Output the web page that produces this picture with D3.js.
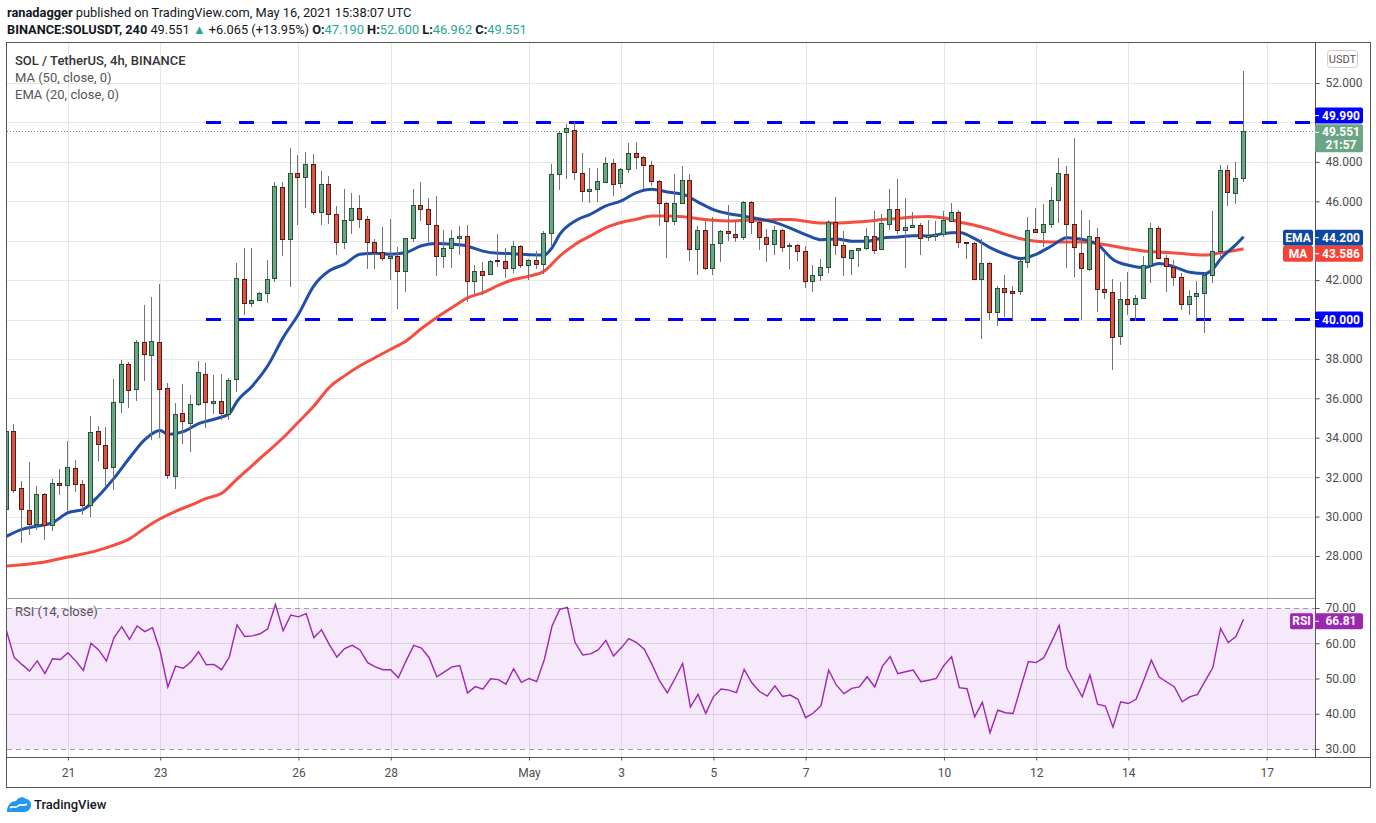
<!DOCTYPE html>
<html>
<head>
<meta charset="utf-8">
<script src="https://cdnjs.cloudflare.com/ajax/libs/d3/7.8.5/d3.min.js"></script>
<style>
  body { margin: 0; background: #fff; }
  svg text { font-family: Roboto, "Liberation Sans", Arial, sans-serif; }
</style>
</head>
<body>
<svg id="chart" width="1376" height="823"></svg>
<script>
// ---- data (SOL/USDT 4h, first candle Apr 19 16:00 UTC) ----
var opens = [30.37,34.32,31.43,30.32,29.64,31.14,29.59,31.72,31.59,32.48,
  31.66,30.61,34.32,33.62,32.51,35.79,37.76,36.48,38.84,38.22,
  38.84,36.53,32.07,35.25,34.77,35.71,37.25,35.76,35.86,35.23,
  37.00,42.08,40.86,41.01,41.32,42.13,46.70,44.06,47.41,47.21,
  47.87,45.46,46.85,45.33,43.91,45.07,45.68,45.12,43.91,43.40,
  43.14,43.20,42.48,44.11,45.83,45.63,44.82,43.23,43.65,44.11,
  44.25,41.95,42.47,42.30,43.03,42.98,42.63,43.75,42.78,43.03,
  42.83,44.41,47.36,49.49,49.64,47.41,46.54,46.64,47.00,47.92,
  46.95,47.66,48.47,48.27,47.86,47.05,45.93,45.02,45.93,47.10,
  43.59,44.56,42.61,43.88,44.49,44.34,44.19,45.97,44.95,44.19,
  43.83,44.56,43.73,43.80,43.47,41.95,42.25,42.68,44.95,43.78,
  43.12,43.53,43.63,44.24,43.58,44.85,45.61,44.54,44.70,44.80,
  44.20,44.25,44.35,45.01,45.47,43.92,43.90,42.06,42.89,40.39,
  41.62,41.43,41.45,42.94,44.61,44.46,44.86,46.08,47.39,44.86,
  43.39,42.58,44.20,41.57,41.42,39.14,41.06,40.81,41.11,42.78,
  44.62,43.12,42.67,42.16,40.79,41.19,41.35,42.26,43.48,47.59,
  46.42,47.19];
var highs = [34.65,34.68,31.81,32.75,31.55,31.18,31.91,32.39,33.83,32.89,
  31.86,35.11,34.60,34.54,36.96,37.96,37.83,38.96,40.75,41.16,
  41.78,36.78,35.78,36.73,36.19,37.90,37.78,37.16,37.21,37.04,
  42.86,43.65,43.65,41.37,43.01,47.00,47.00,48.69,48.34,48.52,
  48.39,47.51,47.26,45.77,46.61,46.41,46.31,45.25,44.08,44.68,
  45.12,43.70,44.16,46.61,46.99,46.14,46.27,44.53,44.55,44.72,
  44.79,42.76,42.93,43.02,44.32,43.64,44.00,43.78,43.05,43.49,
  44.49,47.88,49.54,49.92,50.00,48.44,47.71,47.71,48.22,48.14,
  47.70,48.98,49.03,48.30,48.05,47.10,45.98,47.37,47.80,47.37,
  44.76,44.98,45.20,44.55,45.81,45.07,46.00,46.00,44.98,44.61,
  44.76,44.60,43.88,43.85,43.73,42.78,43.09,45.03,46.24,44.51,
  43.55,43.65,44.66,45.53,45.36,46.63,47.15,46.19,45.47,44.90,
  45.03,44.98,45.49,45.89,45.55,43.95,43.92,44.07,42.92,41.70,
  42.24,41.70,43.00,45.18,45.64,45.84,46.70,48.20,47.80,49.22,
  45.54,45.03,44.62,43.43,42.04,41.89,42.40,41.23,43.22,44.88,
  44.76,43.29,43.04,42.36,41.52,41.94,42.36,45.52,47.86,47.86,
  48.01,52.60];
var lows = [30.20,31.20,28.66,29.07,29.30,28.82,29.28,31.12,30.24,31.26,
  30.10,29.98,32.80,31.57,31.35,35.28,35.49,35.88,36.87,33.91,
  34.00,31.91,31.38,33.69,33.28,35.60,34.51,35.23,34.89,34.90,
  36.33,40.23,40.61,40.95,40.86,41.88,43.23,41.67,44.80,45.68,
  45.29,44.80,44.85,43.28,43.57,44.36,44.62,42.54,42.54,42.98,
  42.01,40.52,41.40,43.91,45.01,43.91,42.21,42.60,42.60,43.28,
  40.89,41.27,41.22,42.25,42.68,42.12,42.37,42.63,42.00,42.58,
  42.32,43.70,46.58,47.15,47.07,45.98,45.93,45.98,46.95,46.27,
  46.66,47.41,47.63,46.61,46.75,44.75,43.14,44.80,45.90,42.97,
  42.24,42.50,42.27,42.90,43.97,43.92,44.05,44.36,43.51,42.92,
  43.25,43.41,42.56,42.97,41.58,41.39,41.93,42.36,43.29,42.19,
  42.24,42.66,43.51,43.34,43.51,44.56,44.36,42.59,44.65,43.25,
  43.97,43.98,44.20,44.98,43.61,43.05,42.01,39.00,39.97,39.68,
  40.13,40.00,41.25,42.60,44.40,43.70,44.62,44.88,42.62,42.16,
  39.97,42.46,40.39,41.03,37.45,38.72,40.24,39.90,41.05,41.86,
  43.05,41.38,41.69,40.47,40.25,40.03,39.32,41.84,43.04,45.74,
  45.88,46.962];
var closes = [34.34,31.35,30.37,29.64,31.14,29.59,31.71,31.59,32.53,31.64,
  30.61,34.27,33.66,32.46,35.81,37.76,36.43,38.84,38.27,38.89,
  36.48,32.12,35.19,34.84,35.71,37.35,35.81,35.86,35.25,36.94,
  42.13,40.86,41.01,41.32,42.08,46.75,44.06,47.41,47.21,47.87,
  45.43,46.85,45.33,43.91,45.07,45.68,45.12,43.91,43.45,43.14,
  43.23,42.48,44.11,45.83,45.63,44.87,43.23,43.65,44.11,44.26,
  41.95,42.47,42.25,42.98,42.97,42.63,43.75,42.78,43.03,42.83,
  44.41,47.36,49.46,49.70,47.46,46.54,46.64,47.05,47.92,46.90,
  47.66,48.47,48.27,47.86,47.05,45.92,45.00,45.93,47.10,43.59,
  44.56,42.61,43.83,44.49,44.37,44.19,45.97,44.95,44.19,43.83,
  44.56,43.68,43.80,43.47,41.95,42.25,42.68,44.95,43.78,43.17,
  43.53,43.63,44.24,43.53,44.90,45.61,44.56,44.70,44.80,44.14,
  44.27,44.35,45.03,45.47,43.93,43.88,42.06,42.89,40.39,41.62,
  41.40,41.35,42.99,44.56,44.46,44.86,46.08,47.44,44.86,43.70,
  42.63,44.24,41.57,41.42,39.09,41.06,40.81,41.11,42.78,44.62,
  43.12,42.72,42.16,40.79,41.19,41.35,42.26,43.48,47.59,46.47,
  47.19,49.551];

// EMA(20) and MA(50), read at sample candles
var emaIdx = [0,2,4,6,8,10,12,14,16,18,20,21,23,25,27,29,30,32,34,36,38,40,42,44,46,48,50,52,54,56,58,60,
  62,64,66,68,70,71,72,74,76,78,80,82,84,86,88,90,92,94,96,98,100,102,104,106,108,110,112,114,116,118,120,
  122,124,126,128,130,132,134,136,138,140,142,144,146,148,150,152,154,156,157,158,160,161];
var emaValues = [29.00,29.35,29.52,29.69,30.20,30.37,31.06,31.95,32.97,33.91,34.37,34.17,34.31,34.72,34.94,35.23,35.85,36.63,37.65,39.08,40.27,41.71,42.47,42.81,43.31,43.36,43.31,43.40,43.74,43.86,43.82,43.72,
  43.47,43.36,43.34,43.29,43.27,43.64,44.32,45.00,45.34,45.76,46.02,46.44,46.61,46.47,46.36,45.96,45.58,45.37,45.24,45.10,44.93,44.64,44.31,44.05,44.09,43.97,43.97,44.14,44.19,44.25,44.24,
  44.37,44.41,44.10,43.65,43.31,43.09,43.31,43.73,44.15,44.07,43.81,43.05,42.75,42.63,42.84,42.67,42.40,42.33,42.56,43.07,43.80,44.20];
var maIdx = [0,4,8,12,14,16,18,20,22,24,26,28,30,32,34,36,38,40,42,44,46,48,50,52,54,56,58,60,62,64,66,68,70,72,74,76,78,80,
  82,84,86,88,90,92,94,96,98,100,102,104,106,108,110,112,114,116,118,120,122,124,126,128,130,132,134,136,138,140,
  142,144,146,148,150,152,154,156,158,160,161];
var maValues = [27.49,27.64,27.95,28.30,28.55,28.87,29.41,29.89,30.27,30.58,30.92,31.18,31.90,32.60,33.30,34.00,34.80,35.61,36.55,37.14,37.65,38.07,38.49,38.91,39.54,40.10,40.61,41.10,41.36,41.73,42.03,42.20,42.46,43.22,43.81,44.24,44.66,44.92,
  45.09,45.25,45.25,45.22,45.11,45.03,45.00,45.03,45.03,45.07,45.07,44.98,44.90,44.90,44.93,44.98,45.07,45.12,45.20,45.23,45.15,44.95,44.78,44.57,44.32,44.10,43.97,43.93,43.93,43.93,
  43.86,43.73,43.59,43.48,43.42,43.38,43.31,43.27,43.38,43.51,43.586];

// RSI(14) per candle
var rsiValues = [63.5,56.0,54.0,52.1,55.0,51.4,55.6,55.4,57.3,55.0,
  52.3,60.0,58.1,55.0,61.6,64.7,61.1,64.9,63.3,64.4,
  57.8,47.6,53.5,52.9,54.7,57.6,53.9,54.0,52.5,56.1,
  65.2,61.9,62.1,62.7,64.1,71.0,63.5,68.0,67.5,68.4,
  61.6,63.8,59.7,56.1,58.5,59.4,58.1,54.5,53.3,52.5,
  52.5,50.2,55.0,59.4,58.6,55.9,50.5,51.9,53.3,53.7,
  45.9,47.7,47.0,49.9,49.7,48.4,52.8,48.9,50.0,49.1,
  55.4,64.9,69.6,70.2,60.2,56.7,57.0,58.1,60.8,56.4,
  58.7,61.3,60.2,58.3,54.0,49.3,45.9,50.0,54.3,41.9,
  45.5,40.1,44.8,47.0,46.7,46.0,52.6,48.8,46.3,45.0,
  47.9,44.9,45.3,44.1,38.9,40.2,42.3,52.4,48.1,45.7,
  47.2,47.6,50.5,47.6,53.5,56.2,51.4,51.9,52.4,49.1,
  49.5,50.0,53.7,56.2,47.4,47.1,39.1,43.3,34.6,41.0,
  40.3,40.1,47.6,54.8,54.5,55.9,60.4,65.1,52.9,48.8,
  44.8,51.0,42.7,42.2,36.2,43.4,42.9,44.1,49.5,55.2,
  50.4,49.0,47.6,43.4,44.8,45.5,49.3,53.1,64.2,60.2,
  61.9,66.81];

var dayTicks = ["2021-04-21","2021-04-23","2021-04-26","2021-04-28","2021-05-01","2021-05-03",
  "2021-05-05","2021-05-07","2021-05-10","2021-05-12","2021-05-14","2021-05-17"];
var priceTicks = [28,30,32,34,36,38,42,46,48,52];
var priceGrid = [28,30,32,34,36,38,40,42,44,46,48,50,52];
var rsiTicks = [30,40,50,60,70];
var levels = [49.99, 40.0];

// ---- layout ----
var svg = d3.select("#chart");
var left = 7, axisX = 1315, right = 1370;
var priceTop = 43, priceBottom = 598, rsiTop = 599, rsiBottom = 757;
var start = Date.UTC(2021, 3, 19, 16);
var timeAt = function(i) { return new Date(start + i * 4 * 3600 * 1000); };
var last = closes.length - 1;

var x = d3.scaleUtc().domain([timeAt(0), timeAt(last)]).range([6.5, 1243.6]);
var yP = d3.scaleLinear().domain([28, 52]).range([556, 83]);
var yR = d3.scaleLinear().domain([30, 70]).range([749, 608]);

var candles = d3.range(closes.length).map(function(i) {
  return { t: timeAt(i), o: opens[i], h: highs[i], l: lows[i], c: closes[i] };
});

var defs = svg.append("defs");
defs.append("clipPath").attr("id", "clipP").append("rect")
  .attr("x", left).attr("y", priceTop).attr("width", axisX - left).attr("height", priceBottom - priceTop);
defs.append("clipPath").attr("id", "clipR").append("rect")
  .attr("x", left).attr("y", rsiTop).attr("width", axisX - left).attr("height", rsiBottom - rsiTop);

svg.append("rect").attr("width", 1376).attr("height", 823).attr("fill", "#fff");

// grid
var grid = svg.append("g").attr("shape-rendering", "crispEdges");
grid.selectAll("line.hp").data(priceGrid).join("line")
  .attr("x1", left).attr("x2", axisX)
  .attr("y1", function(d) { return Math.round(yP(d)) + 0.5; })
  .attr("y2", function(d) { return Math.round(yP(d)) + 0.5; })
  .attr("stroke", "#e6e6e6");
grid.selectAll("line.v").data(dayTicks).join("line")
  .attr("x1", function(d) { return Math.round(x(new Date(d))) + 0.5; })
  .attr("x2", function(d) { return Math.round(x(new Date(d))) + 0.5; })
  .attr("y1", priceTop).attr("y2", rsiBottom)
  .attr("stroke", "#e6e6e6");
grid.selectAll("line.hr").data([40, 50, 60]).join("line")
  .attr("x1", left).attr("x2", axisX)
  .attr("y1", function(d) { return Math.round(yR(d)) + 0.5; })
  .attr("y2", function(d) { return Math.round(yR(d)) + 0.5; })
  .attr("stroke", "#e2e2e2");

// RSI pane
var rsiG = svg.append("g").attr("clip-path", "url(#clipR)");
rsiG.append("rect").attr("x", left).attr("width", axisX - left)
  .attr("y", yR(70)).attr("height", yR(30) - yR(70))
  .attr("fill", "rgba(175,70,225,0.12)");
rsiG.selectAll("line.band").data([70, 30]).join("line")
  .attr("x1", left).attr("x2", axisX)
  .attr("y1", function(d) { return Math.round(yR(d)) + 0.5; })
  .attr("y2", function(d) { return Math.round(yR(d)) + 0.5; })
  .attr("stroke", "#9e9e9e").attr("stroke-dasharray", "5,4");
rsiG.append("path").datum(rsiValues)
  .attr("d", d3.line().x(function(d, i) { return x(timeAt(i)); }).y(function(d) { return yR(d); }))
  .attr("fill", "none").attr("stroke", "#9c27b0").attr("stroke-width", 1.4);

// price pane
var pg = svg.append("g").attr("clip-path", "url(#clipP)");

// support / resistance
pg.selectAll("line.level").data(levels).join("line")
  .attr("x1", 206).attr("x2", axisX)
  .attr("y1", function(d) { return yP(d); }).attr("y2", function(d) { return yP(d); })
  .attr("stroke", "#0000ff").attr("stroke-width", 3).attr("stroke-dasharray", "15,18");

// last price dotted line
pg.append("line").attr("x1", left).attr("x2", axisX)
  .attr("y1", Math.round(yP(closes[last])) + 0.5).attr("y2", Math.round(yP(closes[last])) + 0.5)
  .attr("stroke", "#5e9f77").attr("stroke-dasharray", "1,2");

var lineFrom = function(idx) {
  return d3.line().curve(d3.curveMonotoneX)
    .x(function(d, k) { return x(timeAt(idx[k])); })
    .y(function(d) { return yP(d); });
};
pg.append("path").datum(maValues).attr("d", lineFrom(maIdx))
  .attr("fill", "none").attr("stroke", "#f44336").attr("stroke-width", 3).attr("stroke-opacity", 0.95);
pg.append("path").datum(emaValues).attr("d", lineFrom(emaIdx))
  .attr("fill", "none").attr("stroke", "#1346a5").attr("stroke-width", 3).attr("stroke-opacity", 0.95);

// candles
var cg = pg.append("g").attr("shape-rendering", "crispEdges");
cg.selectAll("line.wick").data(candles).join("line")
  .attr("x1", function(d) { return Math.round(x(d.t)) - 0.5; })
  .attr("x2", function(d) { return Math.round(x(d.t)) - 0.5; })
  .attr("y1", function(d) { return Math.round(yP(d.h)); })
  .attr("y2", function(d) { return Math.round(yP(d.l)); })
  .attr("stroke", "#737375");
cg.selectAll("rect.body").data(candles).join("rect")
  .attr("x", function(d) { return Math.round(x(d.t)) - 2.5; })
  .attr("width", 4)
  .attr("y", function(d) { return Math.round(yP(Math.max(d.o, d.c))) + 0.5; })
  .attr("height", function(d) {
    return Math.max(1, Math.round(yP(Math.min(d.o, d.c))) - Math.round(yP(Math.max(d.o, d.c))));
  })
  .attr("fill", function(d) { return d.c >= d.o ? "#6ba583" : "#d75442"; })
  .attr("stroke", function(d) { return d.c >= d.o ? "#225437" : "#5b1a13"; });

// frame and separators
var frame = svg.append("g").attr("shape-rendering", "crispEdges").attr("stroke", "#555");
frame.append("rect").attr("x", 6.5).attr("y", 42.5).attr("width", right - 6).attr("height", 745)
  .attr("fill", "none");
frame.append("line").attr("x1", axisX + 0.5).attr("x2", axisX + 0.5).attr("y1", 42).attr("y2", rsiBottom);
frame.append("line").attr("x1", 6).attr("x2", right + 0.5).attr("y1", rsiBottom + 0.5).attr("y2", rsiBottom + 0.5);
frame.append("line").attr("x1", 6).attr("x2", axisX).attr("y1", priceBottom + 0.5).attr("y2", priceBottom + 0.5)
  .attr("stroke", "#9a9a9a");

// axes
var styleAxis = function(g) {
  g.select(".domain").remove();
  g.selectAll("line").attr("stroke", "#555");
  g.selectAll("text").attr("fill", "#4d4d4d").style("font-size", "12px");
};
svg.append("g").attr("transform", "translate(" + (axisX + 0.5) + ",0)")
  .call(d3.axisRight(yP).tickValues(priceTicks).tickSize(4).tickPadding(6).tickFormat(d3.format(".3f")))
  .call(styleAxis);
svg.append("g").attr("transform", "translate(" + (axisX + 0.5) + ",0)")
  .call(d3.axisRight(yR).tickValues(rsiTicks).tickSize(4).tickPadding(6).tickFormat(d3.format(".2f")))
  .call(styleAxis);
svg.append("g").attr("transform", "translate(0," + (rsiBottom + 0.5) + ")")
  .call(d3.axisBottom(x).tickValues(dayTicks.map(function(d) { return new Date(d); }))
    .tickSize(3).tickPadding(8)
    .tickFormat(function(d) { return d.getUTCDate() === 1 ? d3.utcFormat("%b")(d) : d3.utcFormat("%-d")(d); }))
  .call(styleAxis);

// value tags on the right axis
var tag = function(y0, h, fill, lines) {
  var g = svg.append("g");
  g.append("rect").attr("x", axisX).attr("y", y0).attr("width", 48).attr("height", h)
    .attr("rx", 2).attr("fill", fill);
  g.append("line").attr("x1", axisX).attr("x2", axisX + 4).attr("y1", y0 + 8).attr("y2", y0 + 8)
    .attr("stroke", "#fff");
  lines.forEach(function(s, k) {
    g.append("text").attr("x", 1341).attr("y", y0 + 12 + k * 13).attr("text-anchor", "middle")
      .attr("fill", "#fff").style("font-size", "12px").style("font-weight", "bold").text(s);
  });
};
var nameTag = function(y0, x0, w, fill, s) {
  svg.append("rect").attr("x", x0).attr("y", y0).attr("width", w).attr("height", 16)
    .attr("rx", 2).attr("fill", fill);
  svg.append("text").attr("x", x0 + w / 2).attr("y", y0 + 12).attr("text-anchor", "middle")
    .attr("fill", "#fff").style("font-size", "12px").style("font-weight", "bold").text(s);
};
tag(yP(49.99) - 15, 16, "#0000ff", [d3.format(".3f")(49.99)]);
tag(yP(closes[last]) - 7, 28, "#6ba583", [d3.format(".3f")(closes[last]), "21:57"]);
tag(yP(40) - 8, 16, "#0000ff", [d3.format(".3f")(40)]);
var emaLast = emaValues[emaValues.length - 1], maLast = maValues[maValues.length - 1];
tag(yP(emaLast) - 7, 16, "#0d47a1", [d3.format(".3f")(emaLast)]);
nameTag(yP(emaLast) - 7, 1283, 30, "#0d47a1", "EMA");
tag(yP(emaLast) + 9, 16, "#f44336", [d3.format(".3f")(maLast)]);
nameTag(yP(emaLast) + 9, 1283, 30, "#f44336", "MA");
var rsiLast = rsiValues[rsiValues.length - 1];
tag(yR(rsiLast) - 6, 16, "#9c27b0", [d3.format(".2f")(rsiLast)]);
nameTag(yR(rsiLast) - 6, 1290, 23, "#9c27b0", "RSI");

// currency badge
svg.append("rect").attr("x", 1327.5).attr("y", 50.5).attr("width", 30).attr("height", 17).attr("rx", 3)
  .attr("fill", "#fff").attr("stroke", "#cfcfcf");
svg.append("text").attr("x", 1342.5).attr("y", 63).attr("text-anchor", "middle")
  .attr("fill", "#555").style("font-size", "11px").text("USDT");

// legends
var legend = [["SOL / TetherUS, 4h, BINANCE", 64.5, "#333", 500], ["MA (50, close, 0)", 81.5, "#555", 400],
  ["EMA (20, close, 0)", 98.5, "#555", 400]];
legend.forEach(function(l) {
  svg.append("text").attr("x", 15).attr("y", l[1]).attr("fill", l[2]).style("font-size", "13px")
    .style("font-weight", l[3]).text(l[0]);
});
svg.append("text").attr("x", 15).attr("y", 616).attr("fill", "#555").style("font-size", "13px")
  .text("RSI (14, close)");

// header
var h1 = svg.append("text").attr("x", 7).attr("y", 16.5).attr("fill", "#131722").style("font-size", "12.8px");
h1.append("tspan").style("font-weight", "bold").text("ranadagger");
h1.append("tspan").text(" published on TradingView.com, May 16, 2021 15:38:07 UTC");
var teal = "#26a69a";
var h2 = svg.append("text").attr("x", 7).attr("y", 33.5).attr("fill", "#131722").style("font-size", "12.8px");
h2.append("tspan").style("font-weight", "bold").text("BINANCE:SOLUSDT, 240");
h2.append("tspan").text("  49.551 ");
h2.append("tspan").attr("fill", teal).text("\u25B2");
h2.append("tspan").text(" +6.065 (+13.95%) ");
[["O:", "47.190"], [" H:", "52.600"], [" L:", "46.962"], [" C:", "49.551"]].forEach(function(p) {
  h2.append("tspan").style("font-weight", "bold").text(p[0]);
  h2.append("tspan").attr("fill", teal).text(p[1]);
});

// TradingView footer logo
var logo = svg.append("g").attr("transform", "translate(7,796)");
logo.append("path").attr("d", "M0,16 C0,9 4,5 9,5 C11,1 16,0 19,3 C22,3 24,6 24,9 C24,13 21,16 17,16 Z")
  .attr("fill", "#2196f3");
logo.append("path").attr("d", "M3,12 C6,9 8,13 11,10 C14,7 16,11 20,8")
  .attr("fill", "none").attr("stroke", "#fff").attr("stroke-width", 1.6);
svg.append("text").attr("x", 34).attr("y", 809).attr("fill", "#131722").style("font-size", "13px")
  .style("font-weight", 500).text("TradingView");
</script>
</body>
</html>
